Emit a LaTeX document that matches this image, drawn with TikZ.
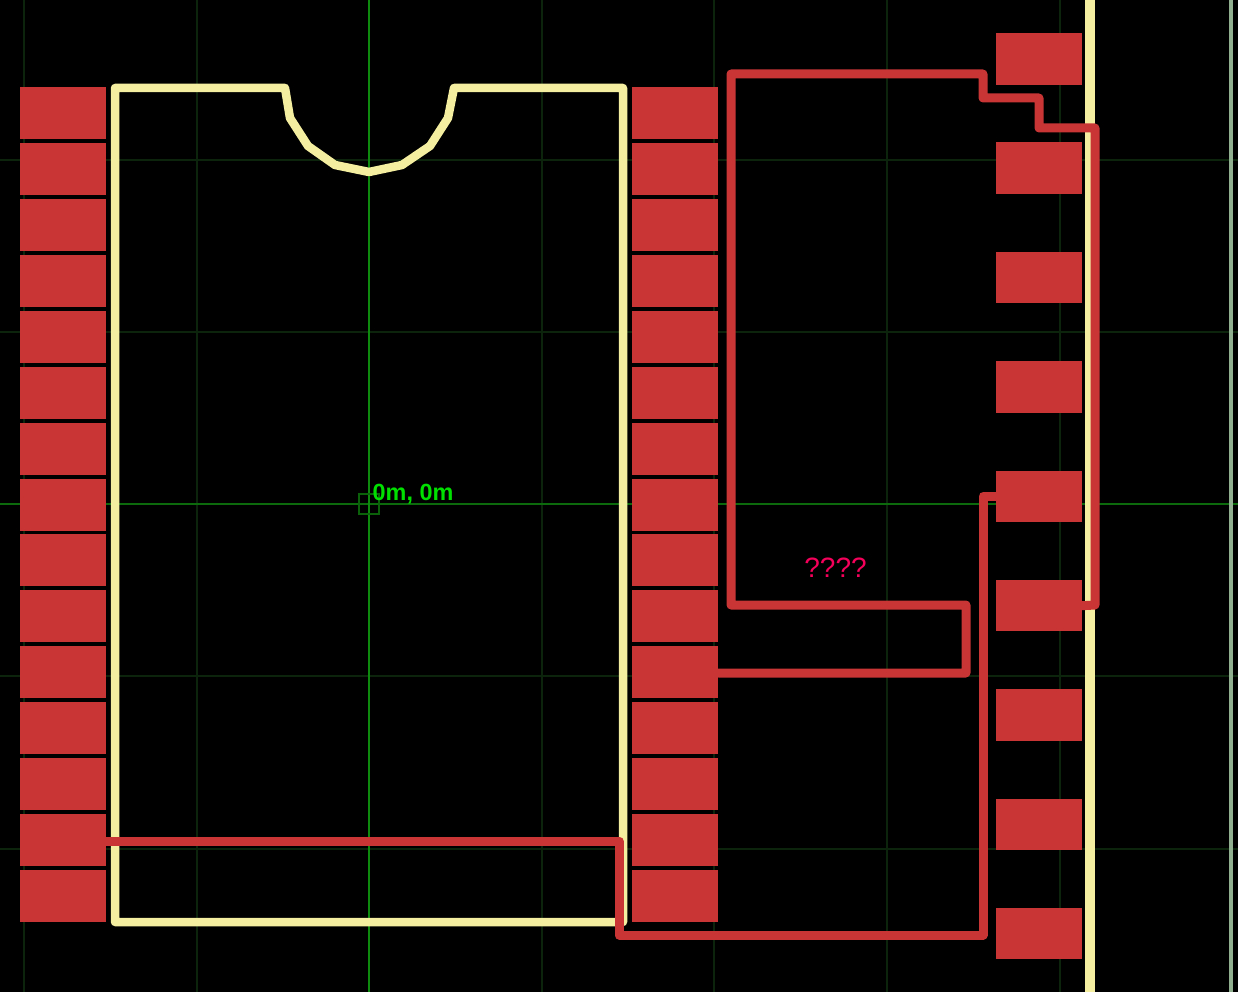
\documentclass[tikz,border=0pt]{standalone}
\usepackage{fontspec}
\setmainfont{Liberation Sans}
\definecolor{padred}{HTML}{C93535}
\definecolor{silk}{HTML}{F4EEA0}
\definecolor{gridfaint}{HTML}{0B240B}
\definecolor{axisgreen}{HTML}{0E8A0E}
\definecolor{axisdark}{HTML}{0C6A0C}
\definecolor{edgeline}{HTML}{8FAF8F}
\definecolor{labelgreen}{HTML}{00E000}
\definecolor{labelpink}{HTML}{F5005A}
\tikzset{
  padbox/.style={fill=padred,draw=none,inner sep=0pt,minimum width=#1,anchor=north west},
  padbox/.default=86pt,
  gridline/.style={gridfaint,line width=2pt},
  axisline/.style={line width=2.6pt},
  silkline/.style={silk,line width=8.5pt,line join=round},
  trace/.style={padred,line width=9pt,line join=round,line cap=round},
}
\begin{document}
\begin{tikzpicture}[x=1pt,y=-1pt]
\useasboundingbox[fill=black] (0,0) rectangle (1238,992);
% grid
\foreach \gx in {24,197,542,714,887,1060}
  \draw[gridline] (\gx,0) -- (\gx,992);
\foreach \gy in {160,332,676,849}
  \draw[gridline] (0,\gy) -- (1238,\gy);
\draw[axisline,axisdark] (0,504) -- (1238,504);
\draw[axisline,axisgreen] (369,0) -- (369,992);
\draw[edgeline,line width=4pt] (1231,0) -- (1231,992);
% origin mark
\node[draw=axisgreen!70!black,line width=1.5pt,fill=none,minimum size=20pt,inner sep=0pt] (origin) at (369,504) {};
% silkscreen
\draw[silkline] (115,88) -- (285,88) -- (290,118) -- (308,146) -- (335,165) -- (369,172)
  -- (402,165) -- (430,146) -- (448,118) -- (454,88) -- (623,88) -- (623,922) -- (115,922) -- cycle;
\draw[silk,line width=10pt] (1090,0) -- (1090,992);
% chip pads
\foreach \i in {0,...,14} {
  \pgfmathsetmacro{\py}{87+55.9*\i}
  \node[padbox,minimum height=52pt] (L\i) at (20,\py) {};
  \node[padbox,minimum height=52pt] (R\i) at (632,\py) {};
}
% header pads
\foreach \i/\py/\ph in {0/33/52,1/142/52,2/252/51,3/361/52,4/471/51,5/580/51,6/689/52,7/799/51,8/908/51}
  \node[padbox,minimum height=\ph pt] (H\i) at (996,\py) {};
% traces
\draw[trace] (H5.east) -- (1095,605) -- (1095,128) -- (1039,128) -- (1039,98) -- (983,98) -- (983,74)
  -- (731,74) -- (731,605) -- (966,605) -- (966,673) -- (R10.east |- 0,673);
\draw[trace] (L13.east |- 0,841) -- (619,841) -- (619,935) -- (983,935) -- (983,496) -- (H4.west |- 0,496);
% labels
\node[text=labelgreen,font=\fontsize{23.4}{25}\selectfont,anchor=west,inner sep=0pt] (coord) at (372.5,494.5) {\textbf{0m, 0m}};
\node[text=labelpink,font=\fontsize{28}{30}\selectfont,inner sep=0pt] (query) at (835.5,568) {????};
\end{tikzpicture}
\end{document}
